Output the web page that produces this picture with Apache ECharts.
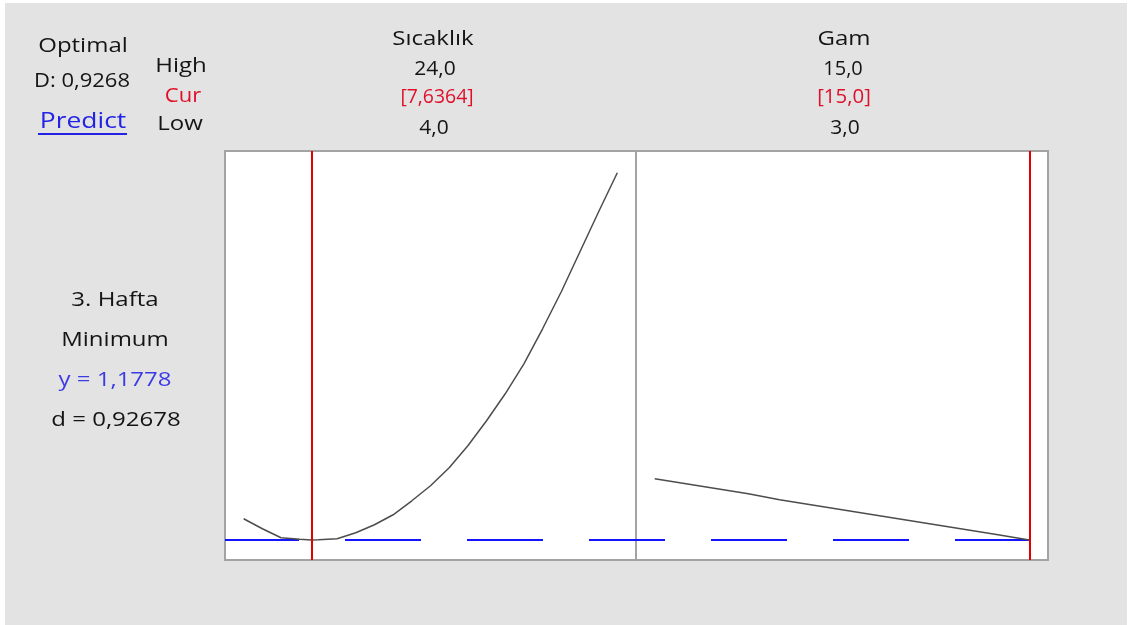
<!DOCTYPE html>
<html>
<head>
<meta charset="utf-8">
<script src="https://cdn.jsdelivr.net/npm/echarts@6/dist/echarts.min.js"></script>
<style>
html,body{margin:0;padding:0;background:#ffffff;}
#bg{position:absolute;left:5px;top:3px;width:1122px;height:622px;background:#e3e3e3;}
#chart{position:absolute;left:0;top:0;width:1131px;height:625px;}
</style>
</head>
<body>
<div id="bg"></div>
<div id="chart"></div>
<script>
// ---- data ----
var factorNames = ['Sıcaklık', 'Gam'];
var factorHigh = ['24,0', '15,0'];
var factorCur = ['[7,6364]', '[15,0]'];
var factorLow = ['4,0', '3,0'];
var curValues = [7.6364, 15.0];
var lowValues = [4.0, 3.0];
var highValues = [24.0, 15.0];

var responseName = '3. Hafta';
var goalText = 'Minimum';
var yOptText = 'y = 1,1778';
var dText = 'd = 0,92678';
var optimalText = 'Optimal';
var DText = 'D: 0,9268';
var yOpt = 1.1778;

var sicX = [4, 5, 6, 7, 7.6364, 8, 9, 10, 11, 12, 13, 14, 15, 16, 17, 18, 19, 20, 21, 22, 23, 24];
var sicY = [1.39, 1.29, 1.20, 1.185, 1.1778, 1.18, 1.19, 1.25, 1.33, 1.43, 1.57, 1.72, 1.90, 2.12, 2.37, 2.64, 2.94, 3.29, 3.66, 4.06, 4.46, 4.85];
var gamX = [3, 4, 5, 6, 7, 8, 9, 10, 11, 12, 13, 14, 15];
var gamY = [1.79, 1.74, 1.69, 1.64, 1.58, 1.53, 1.48, 1.43, 1.38, 1.33, 1.28, 1.23, 1.1778];

// ---- chart ----
function zip(a, b) { return a.map(function (v, i) { return [v, b[i]]; }); }
var FONT = "'Segoe UI', 'Open Sans', sans-serif";
var chart = echarts.init(document.getElementById('chart'), null, {renderer: 'canvas'});

function txt(x, y, s, color, size, sx) {
  return {type: 'text', x: x, y: y, scaleX: sx || 1.2, silent: true,
    style: {text: s, fill: color || '#141414', font: (size || 20) + 'px ' + FONT,
      textAlign: 'center', textVerticalAlign: 'middle'}};
}

var yMin = 0.9778, yMax = 5.0678;
var ranges = [[3, 25], [2.4, 15.6]];
var option = {
  animation: false,
  backgroundColor: 'transparent',
  grid: [
    {left: 225, top: 151, width: 411, height: 409, show: true, backgroundColor: '#ffffff', borderColor: '#a3a3a3', borderWidth: 2},
    {left: 636, top: 151, width: 412, height: 409, show: true, backgroundColor: '#ffffff', borderColor: '#a3a3a3', borderWidth: 2}
  ],
  xAxis: [
    {type: 'value', gridIndex: 0, min: ranges[0][0], max: ranges[0][1], show: false},
    {type: 'value', gridIndex: 1, min: ranges[1][0], max: ranges[1][1], show: false}
  ],
  yAxis: [
    {type: 'value', gridIndex: 0, min: yMin, max: yMax, show: false},
    {type: 'value', gridIndex: 1, min: yMin, max: yMax, show: false}
  ],
  series: [
    {type: 'line', xAxisIndex: 0, yAxisIndex: 0, data: [[ranges[0][0], yOpt], [ranges[0][1], yOpt]],
      symbol: 'none', silent: true, z: 2,
      lineStyle: {color: '#1414ff', width: 2, type: [76, 46], dashOffset: 2}},
    {type: 'line', xAxisIndex: 1, yAxisIndex: 1, data: [[ranges[1][0], yOpt], [highValues[1], yOpt]],
      symbol: 'none', silent: true, z: 2,
      lineStyle: {color: '#1414ff', width: 2, type: [76, 46], dashOffset: 47}},
    {type: 'line', xAxisIndex: 0, yAxisIndex: 0, data: zip(sicX, sicY), symbol: 'none', silent: true, z: 3,
      lineStyle: {color: '#4d4d4d', width: 1.5},
      markLine: {silent: true, symbol: 'none', label: {show: false}, z: 5,
        lineStyle: {color: '#e00000', width: 2, type: 'solid'}, data: [{xAxis: curValues[0]}]}},
    {type: 'line', xAxisIndex: 1, yAxisIndex: 1, data: zip(gamX, gamY), symbol: 'none', silent: true, z: 3,
      lineStyle: {color: '#4d4d4d', width: 1.5},
      markLine: {silent: true, symbol: 'none', label: {show: false}, z: 5,
        lineStyle: {color: '#e00000', width: 2, type: 'solid'}, data: [{xAxis: curValues[1]}]}}
  ],
  graphic: [
    txt(83, 46, optimalText),
    txt(82, 81, DText, null, 20, 1.1),
    txt(83, 122, 'Predict', '#2323e6', 22),
    {type: 'line', silent: true, shape: {x1: 38, y1: 134, x2: 127, y2: 134}, style: {stroke: '#2323e6', lineWidth: 2}},
    txt(181, 66, 'High'),
    txt(183, 96, 'Cur', '#e0102a', 20, 1.1),
    txt(180, 124, 'Low'),
    txt(433, 39, factorNames[0]),
    txt(435, 69, factorHigh[0], null, 20, 1.05),
    txt(437, 97, factorCur[0], '#e0102a', 20, 0.97),
    txt(434, 128, factorLow[0], null, 20, 1.05),
    txt(844, 39, factorNames[1]),
    txt(843, 69, factorHigh[1], null, 20, 1.0),
    txt(844, 97, factorCur[1], '#e0102a', 20, 1.02),
    txt(845, 128, factorLow[1], null, 20, 1.05),
    txt(115, 300, responseName),
    txt(115, 340, goalText),
    txt(115, 380, yOptText, '#3b3be6'),
    txt(116, 420, dText)
  ]
};
chart.setOption(option);
</script>
</body>
</html>
